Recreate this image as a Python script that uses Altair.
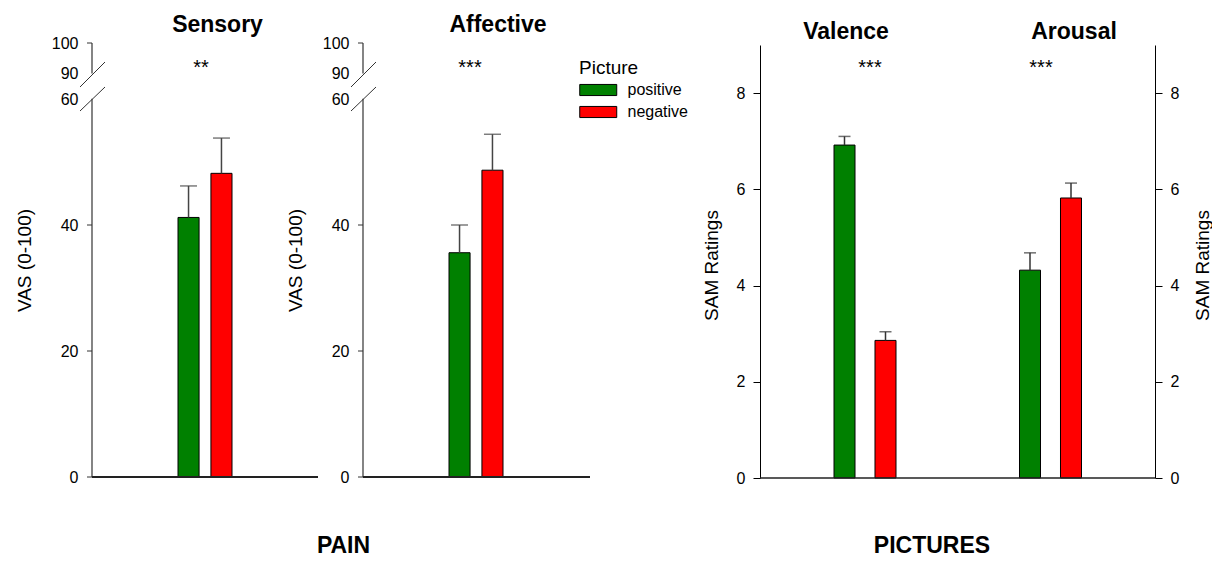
import altair as alt
import pandas as pd

FONT = "Liberation Sans"

pictures = ["positive", "negative"]
bar_colors = ["#008000", "#FF0000"]
legend_title = "Picture"

pain_titles = ["Sensory", "Affective"]
pain_stars = ["**", "***"]
sensory_mean = [41.2, 48.2]
sensory_err = [5.0, 5.6]
affective_mean = [35.6, 48.7]
affective_err = [4.4, 5.7]
pain_tick_values = [0, 20, 40, 60, 90, 100]
pain_tick_marks = [0, 20, 40, 100]
pain_axis_title = "VAS (0-100)"

sam_dims = ["Valence", "Arousal"]
sam_stars = ["***", "***"]
valence_mean = [6.92, 2.86]
valence_err = [0.18, 0.18]
arousal_mean = [4.32, 5.82]
arousal_err = [0.36, 0.31]
sam_tick_values = [0, 2, 4, 6, 8]
sam_axis_title = "SAM Ratings"

group_labels = ["PAIN", "PICTURES"]

color_scale = alt.Scale(domain=pictures, range=bar_colors)
one = pd.DataFrame({"k": [0]})
PH = 434
SH = 435


def text_layer(label, x, y, size, bold=False):
    return alt.Chart(pd.DataFrame({"label": [label]})).mark_text(
        font=FONT, fontSize=size, fontWeight="bold" if bold else "normal",
        align="center", baseline="alphabetic", color="black"
    ).encode(text="label:N", x=alt.value(x), y=alt.value(y))


def pain_panel(idx, means, errs, width, base_len, title_x, star_x, legend):
    df = pd.DataFrame({"Picture": pictures, "mean": means,
                       "top": [m + e for m, e in zip(means, errs)]})
    yscale = alt.Scale(domain=[0, 60, 90, 100], range=[PH, 56, 30, 0])
    xenc = alt.X("Picture:N", sort=pictures, axis=None,
                 scale=alt.Scale(domain=pictures, range=[86, 140],
                                 paddingInner=0.36, paddingOuter=0))
    yaxis = alt.Axis(values=pain_tick_values, domain=False, grid=False, ticks=False,
                     labelFontSize=16, labelColor="black", labelPadding=14, labelFont=FONT,
                     title=pain_axis_title, titleFont=FONT, titleFontSize=19,
                     titleFontWeight="normal", titleColor="black", titleAngle=270,
                     titleAlign="center", titleBaseline="middle", titleX=-68, titleY=PH / 2)
    base = alt.Chart(df)
    bars = base.mark_bar(stroke="black", strokeWidth=1).encode(
        x=xenc, y=alt.Y("mean:Q", scale=yscale, axis=yaxis),
        color=alt.Color("Picture:N", scale=color_scale, legend=legend))
    err = base.mark_rule(color="#444", strokeWidth=1.5).encode(
        x=xenc, y=alt.Y("mean:Q", axis=None), y2="top:Q")
    cap = base.mark_tick(color="#444", thickness=1.5, size=17).encode(
        x=xenc, y=alt.Y("top:Q", axis=None))
    ticks = alt.Chart(pd.DataFrame({"v": pain_tick_marks})).mark_rule(
        color="#333", strokeWidth=1).encode(
        x=alt.value(-5), x2=alt.value(0), y=alt.Y("v:Q", axis=None))
    ax_up = alt.Chart(one).mark_rule(color="#333", strokeWidth=1.2).encode(
        x=alt.value(0), y=alt.YDatum(100, axis=None), y2=alt.Y2Datum(89.3))
    ax_lo = alt.Chart(one).mark_rule(color="#333", strokeWidth=1.2).encode(
        x=alt.value(0), y=alt.YDatum(60.3, axis=None), y2=alt.Y2Datum(0))
    sl1 = alt.Chart(one).mark_rule(color="#333", strokeWidth=1).encode(
        x=alt.value(-12), x2=alt.value(13), y=alt.value(44), y2=alt.value(19))
    sl2 = alt.Chart(one).mark_rule(color="#333", strokeWidth=1).encode(
        x=alt.value(-12), x2=alt.value(13), y=alt.value(68), y2=alt.value(44))
    baseline = alt.Chart(one).mark_rule(color="#222", strokeWidth=2).encode(
        x=alt.value(0), x2=alt.value(base_len), y=alt.YDatum(0, axis=None))
    layers = [bars, err, cap, ticks, ax_up, ax_lo, sl1, sl2, baseline,
              text_layer(pain_titles[idx], title_x, -11.5, 23, True),
              text_layer(pain_stars[idx], star_x, 31, 20)]
    if idx == 0:
        layers.append(text_layer(group_labels[0], 251.5, 510, 23, True))
    return alt.layer(*layers).resolve_axis(y="independent").properties(width=width, height=PH)


p1 = pain_panel(0, sensory_mean, sensory_err, 226, 226, 125.5, 109, None)
legend = alt.Legend(title=legend_title, orient="none", legendX=216, legendY=16,
                    symbolType="M-1,-0.6H3V0.6H-1Z", symbolSize=342,
                    symbolStrokeColor="black", symbolStrokeWidth=1, symbolOpacity=1,
                    labelFont=FONT, labelFontSize=16, labelColor="black", labelOffset=28.5,
                    titleFont=FONT, titleFontSize=19, titleFontWeight="normal",
                    titleColor="black", titlePadding=2, rowPadding=4, padding=0)
p2 = pain_panel(1, affective_mean, affective_err, 352, 227, 135, 107, legend)

# SAM panel
rows = []
for d, ms, es in zip(sam_dims, [valence_mean, arousal_mean], [valence_err, arousal_err]):
    for p, m, e in zip(pictures, ms, es):
        rows.append({"Dim": d, "Picture": p, "mean": m, "top": m + e})
sdf = pd.DataFrame(rows)
sx = alt.X("Dim:N", sort=sam_dims, axis=None,
           scale=alt.Scale(domain=sam_dims, range=[12.25, 383.25], paddingInner=0, paddingOuter=0))
sxo = alt.XOffset("Picture:N", sort=pictures,
                  scale=alt.Scale(domain=pictures, range=[61.75, 123.75],
                                  paddingInner=0.4878, paddingOuter=0))
sys = alt.Scale(domain=[0, 9], range=[SH, 2])
axis_common = dict(values=sam_tick_values, grid=False, domainColor="black", domainWidth=1,
                   tickSize=7, tickColor="black", tickWidth=1, labelPadding=8,
                   labelFontSize=16, labelColor="black", labelFont=FONT,
                   title=sam_axis_title, titleFont=FONT, titleFontSize=19,
                   titleFontWeight="normal", titleColor="black", titleAngle=270,
                   titleAlign="center", titleBaseline="middle", titleY=222)
sbase = alt.Chart(sdf)
sbars = sbase.mark_bar(stroke="black", strokeWidth=1).encode(
    x=sx, xOffset=sxo,
    y=alt.Y("mean:Q", scale=sys, axis=alt.Axis(orient="left", titleX=-49, **axis_common)),
    color=alt.Color("Picture:N", scale=color_scale, legend=None))
serr = sbase.mark_rule(color="#333", strokeWidth=1.5).encode(
    x=sx, xOffset=sxo,
    y=alt.Y("mean:Q", axis=alt.Axis(orient="right", titleX=47, **axis_common)),
    y2="top:Q")
scap = sbase.mark_tick(color="#333", thickness=1.5, size=12).encode(
    x=sx, xOffset=sxo, y=alt.Y("top:Q", axis=None))
sbaseline = alt.Chart(one).mark_rule(color="#222", strokeWidth=1.5).encode(
    x=alt.value(0), x2=alt.value(395), y=alt.YDatum(0, axis=None))
p3 = alt.layer(
    sbars, serr, scap, sbaseline,
    text_layer(sam_dims[0], 86, -4, 23, True),
    text_layer(sam_dims[1], 314, -4, 23, True),
    text_layer(sam_stars[0], 110, 31, 20),
    text_layer(sam_stars[1], 281, 31, 20),
    text_layer(group_labels[1], 172, 510, 23, True),
).resolve_axis(y="independent").properties(width=395, height=SH)

chart = alt.hconcat(p1, p2, p3, spacing=45, bounds="flush").resolve_legend(
    color="independent"
).properties(
    padding={"left": 7, "top": 5, "right": 0, "bottom": 2}
).configure(font=FONT).configure_view(stroke=None)

chart.save("out.html", embed_options={"renderer": "svg", "actions": False})
